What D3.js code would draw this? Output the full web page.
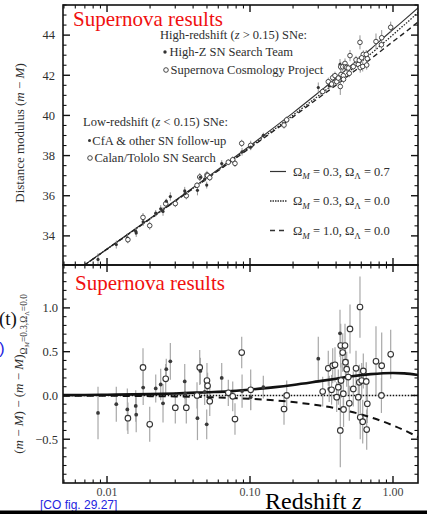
<!DOCTYPE html>
<html><head><meta charset="utf-8">
<script src="https://cdn.jsdelivr.net/npm/d3@7"></script>
<style>body{margin:0;background:#fff}svg{display:block}</style>
</head><body>
<script>
// ---------- data ----------
const snZ = [0.00865,0.01161,0.01387,0.0140,0.01588,0.0160,0.01785,0.0179,0.01989,0.02191,0.02374,0.02464,0.02573,0.02597,0.02772,0.03003,0.03495,0.03585,0.0352,0.0426,0.0429,0.0445,0.0450,0.0500,0.0505,0.0498,0.0482,0.0523,0.0634,0.0705,0.0757,0.0785,0.0875,0.0880,0.1011,0.1010,0.1239,
 0.1806,0.1729,0.3003,0.3223,0.3527,0.358,0.3787,0.3930,0.372,0.4039,0.4260,0.4308,0.4617,0.4450,0.465,0.4745,0.433,0.4145,0.4493,0.428,0.451,0.4948,0.5876,0.5004,0.4868,0.5277,0.5512,0.5720,0.5813,0.6199,0.6041,0.590,0.6140,0.6548,0.6612,0.650,0.7604,0.8337,0.830,0.9636];
const snMu = [32.83,33.57,33.89,33.81,34.23,34.15,34.92,34.70,34.51,35.13,35.35,35.22,35.60,35.73,35.96,35.61,36.24,36.00,36.11,36.52,36.27,36.93,36.92,37.04,37.00,36.53,36.83,36.90,37.60,37.67,37.79,37.61,38.61,38.19,38.51,38.42,39.01,
 39.78,39.52,41.39,41.19,41.68,41.48,41.88,41.98,41.56,41.68,42.54,42.42,42.59,42.42,42.42,42.39,42.04,41.86,41.98,41.44,41.80,42.10,43.64,42.98,42.36,42.43,42.77,42.54,42.75,43.04,42.87,42.38,42.44,42.51,42.83,43.04,43.68,43.87,43.52,44.39];
const snResid = [-0.20,-0.10,-0.16,-0.26,-0.12,-0.22,0.32,0.09,-0.33,0.08,0.125,-0.09,0.19,0.30,0.39,-0.14,0.16,-0.14,0.02,0.00,-0.26,0.32,0.28,0.17,0.11,-0.33,0.04,-0.065,0.20,0.03,-0.01,-0.27,0.49,0.05,0.065,-0.02,0.095,
 0.00,-0.155,0.42,0.045,0.31,0.075,0.34,0.35,0.065,-0.02,0.71,0.57,0.57,0.49,0.38,0.30,0.17,0.095,0.02,-0.40,-0.16,-0.09,1.01,0.76,0.21,0.075,0.31,-0.02,0.15,0.28,0.17,-0.25,-0.30,-0.39,-0.095,0.16,0.39,0.34,0.00,0.47];
const snErr = [0.30,0.20,0.24,0.18,0.18,0.20,0.22,0.20,0.20,0.16,0.18,0.22,0.17,0.12,0.21,0.18,0.20,0.18,0.15,0.15,0.25,0.20,0.15,0.20,0.15,0.17,0.15,0.17,0.17,0.15,0.17,0.18,0.18,0.19,0.23,0.15,0.13,
 0.17,0.18,0.25,0.17,0.20,0.15,0.20,0.20,0.17,0.17,0.27,0.25,0.25,0.22,0.20,0.20,0.20,0.20,0.20,0.42,0.20,0.20,0.35,0.28,0.20,0.20,0.20,0.20,0.20,0.20,0.20,0.25,0.25,0.23,0.22,0.22,0.40,0.38,0.20,0.28];
const snFilled = [1,1,1,0,1,1,0,1,0,1,1,1,0,1,1,0,1,0,1,0,1,0,1,0,0,1,1,0,1,0,0,0,0,1,0,1,1,
 0,0,1,0,0,1,0,0,0,0,1,0,0,0,0,0,0,0,0,0,0,0,0,0,0,0,0,0,0,0,0,0,0,0,0,0,0,0,0,0,1];

const curveZ   = [0.0049,0.007,0.01,0.02,0.03,0.05,0.07,0.1,0.15,0.2,0.3,0.4,0.5,0.7,1.0,1.2,1.5];
const muOpen   = [31.79,32.56,33.34,34.85,35.74,36.87,37.62,38.42,39.34,40.01,40.97,41.66,42.22,43.07,44.02,44.51,45.13];
const muFlat   = [31.79,32.57,33.35,34.87,35.76,36.91,37.67,38.49,39.44,40.13,41.13,41.85,42.44,43.31,44.28,44.76,45.36];
const muEdS    = [31.79,32.56,33.34,34.84,35.73,36.85,37.59,38.38,39.28,39.93,40.86,41.51,42.04,42.82,43.68,44.11,44.66];
const resOpen  = [0,0,0,0,0,0,0,0,0,0,0,0,0,0,0,0,0];
const resFlat  = [0.004,0.005,0.008,0.015,0.022,0.037,0.047,0.067,0.095,0.120,0.161,0.191,0.216,0.244,0.257,0.252,0.234];
const resEdS   = [-0.002,-0.003,-0.004,-0.008,-0.011,-0.019,-0.027,-0.038,-0.057,-0.076,-0.112,-0.148,-0.183,-0.250,-0.342,-0.398,-0.475];

const topMajorTicks = [34,36,38,40,42,44];
const botMajorTicks = [-0.5,0.0,0.5,1.0];
const botTickLabels = ['\u22120.5','0.0','0.5','1.0'];
const xMajorTicks = [0.01,0.1,1];
const xTickLabels = ['0.01','0.10','1.00'];

// ---------- setup ----------
const W=427,H=514;
const serif='"Liberation Serif","Times New Roman",serif';
const sans='"Liberation Sans",Arial,sans-serif';
const ink='#2e2e2e';
const svg=d3.select('body').append('svg').attr('width',W).attr('height',H);
const L=63,R=418,T1=5,B1=265,T2=265,B2=483;
const x=d3.scaleLog().domain([0.004922,1.4958]).range([L,R]);
const yTop=d3.scaleLinear().domain([32.55,45.5]).range([B1,T1]);
const yBot=d3.scaleLinear().domain([-1.0,1.49]).range([B2,T2]);

const defs=svg.append('defs');
defs.append('clipPath').attr('id','c1').append('rect').attr('x',L).attr('y',T1).attr('width',R-L).attr('height',B1-T1);
defs.append('clipPath').attr('id','c2').append('rect').attr('x',L).attr('y',T2).attr('width',R-L).attr('height',B2-T2);

function rich(g, px, py, parts, size, opts={}) {
  const t=g.append('text').attr('x',px).attr('y',py).attr('font-size',size)
    .attr('font-family',opts.family||serif).attr('fill',opts.fill||ink);
  if(opts.anchor) t.attr('text-anchor',opts.anchor);
  if(opts.transform) t.attr('transform',opts.transform);
  let shift=0;
  parts.forEach(([s,k])=>{
    const sp=t.append('tspan').text(s);
    let target=0, fs=null;
    if(k==='i') sp.attr('font-style','italic');
    if(k==='sub'||k==='isub'){target=size*0.28; fs=size*0.72; if(k==='isub') sp.attr('font-style','italic');}
    if(k==='sub2'||k==='isub2'){target=size*0.45; fs=size*0.5; if(k==='isub2') sp.attr('font-style','italic');}
    if(fs) sp.attr('font-size',fs);
    if(target!==shift){sp.attr('dy',target-shift); shift=target;}
  });
  return t;
}

// ---------- ticks ----------
const minorX=[];
[0.001,0.01,0.1,1].forEach(d=>{for(let k=1;k<10;k++){const v=k*d; if(v>=0.004922&&v<=1.4958) minorX.push(v);}});
function xTicks(yEdge, dir){
  minorX.forEach(v=>{
    const major = xMajorTicks.some(m=>Math.abs(m-v)<1e-9);
    const len = major?7:3.5;
    svg.append('line').attr('x1',x(v)).attr('x2',x(v)).attr('y1',yEdge).attr('y2',yEdge+dir*len)
      .attr('stroke','#111').attr('stroke-width',major?1.4:1.1);
  });
}
xTicks(T1,1); xTicks(B1,-1); xTicks(T2,1); xTicks(B2,-1);

function yTicks(scale, lo, hi, step, majors){
  const n=Math.round((hi-lo)/step);
  for(let i=0;i<=n;i++){
    const v=lo+i*step;
    const major=majors.some(m=>Math.abs(m-v)<1e-6);
    const len=major?7:3.5;
    const yy=scale(v);
    svg.append('line').attr('x1',L).attr('x2',L+len).attr('y1',yy).attr('y2',yy).attr('stroke','#111').attr('stroke-width',major?1.4:1.1);
    svg.append('line').attr('x1',R).attr('x2',R-len).attr('y1',yy).attr('y2',yy).attr('stroke','#111').attr('stroke-width',major?1.4:1.1);
  }
}
yTicks(yTop,33,45.5,0.5,topMajorTicks);
yTicks(yBot,-0.9,1.4,0.1,botMajorTicks);

// tick labels
topMajorTicks.forEach(v=>{
  svg.append('text').attr('x',55).attr('y',yTop(v)).attr('dy','0.35em').attr('text-anchor','end')
    .attr('font-family',serif).attr('font-size',12.5).attr('fill',ink).text(v);
});
botMajorTicks.forEach((v,i)=>{
  svg.append('text').attr('x',58).attr('y',yBot(v)).attr('dy','0.35em').attr('text-anchor','end')
    .attr('font-family',serif).attr('font-size',12.5).attr('fill',ink).text(botTickLabels[i]);
});
xMajorTicks.forEach((v,i)=>{
  svg.append('text').attr('x',x(v)).attr('y',496).attr('text-anchor','middle')
    .attr('font-family',serif).attr('font-size',12).attr('fill','#444').text(xTickLabels[i]);
});

// ---------- top panel ----------
const gTop=svg.append('g').attr('clip-path','url(#c1)');
const lineTop=(arr)=>d3.line().x((d,i)=>x(curveZ[i])).y((d,i)=>yTop(arr[i])).curve(d3.curveMonotoneX)(arr);
gTop.append('path').attr('d',lineTop(muFlat)).attr('fill','none').attr('stroke','#333').attr('stroke-width',1.1);
gTop.append('path').attr('d',lineTop(muOpen)).attr('fill','none').attr('stroke','#222').attr('stroke-width',1.3).attr('stroke-dasharray','1.5,1.5');
gTop.append('path').attr('d',lineTop(muEdS)).attr('fill','none').attr('stroke','#222').attr('stroke-width',1.4).attr('stroke-dasharray','5,3.5');
snZ.forEach((z,i)=>{
  gTop.append('line').attr('x1',x(z)).attr('x2',x(z)).attr('y1',yTop(snMu[i]-snErr[i])).attr('y2',yTop(snMu[i]+snErr[i]))
    .attr('stroke','#888').attr('stroke-width',0.9);
});
snZ.forEach((z,i)=>{
  if(snFilled[i]) gTop.append('circle').attr('cx',x(z)).attr('cy',yTop(snMu[i])).attr('r',1.6).attr('fill','#333');
  else gTop.append('circle').attr('cx',x(z)).attr('cy',yTop(snMu[i])).attr('r',2.3).attr('fill','#fff').attr('stroke','#333').attr('stroke-width',0.9);
});

// ---------- bottom panel ----------
const gBot=svg.append('g').attr('clip-path','url(#c2)');
snZ.forEach((z,i)=>{
  gBot.append('line').attr('x1',x(z)).attr('x2',x(z)).attr('y1',yBot(snResid[i]-snErr[i])).attr('y2',yBot(snResid[i]+snErr[i]))
    .attr('stroke','#a8a8a8').attr('stroke-width',1.2);
});
const lineBot=(arr)=>d3.line().x((d,i)=>x(curveZ[i])).y((d,i)=>yBot(arr[i])).curve(d3.curveMonotoneX)(arr);
gBot.append('path').attr('d',lineBot(resOpen)).attr('fill','none').attr('stroke','#111').attr('stroke-width',1.6).attr('stroke-dasharray','1.5,1.5');
gBot.append('path').attr('d',lineBot(resEdS)).attr('fill','none').attr('stroke','#111').attr('stroke-width',2).attr('stroke-dasharray','7,5');
gBot.append('path').attr('d',lineBot(resFlat)).attr('fill','none').attr('stroke','#111').attr('stroke-width',2.6);
snZ.forEach((z,i)=>{
  if(snFilled[i]) gBot.append('circle').attr('cx',x(z)).attr('cy',yBot(snResid[i])).attr('r',1.9).attr('fill','#3a3a3a');
  else gBot.append('circle').attr('cx',x(z)).attr('cy',yBot(snResid[i])).attr('r',2.8).attr('fill','#fff').attr('stroke','#333').attr('stroke-width',1.1);
});

// frames
svg.append('rect').attr('x',L).attr('y',T1).attr('width',R-L).attr('height',B1-T1).attr('fill','none').attr('stroke','#111').attr('stroke-width',1.6);
svg.append('rect').attr('x',L).attr('y',T2).attr('width',R-L).attr('height',B2-T2).attr('fill','none').attr('stroke','#111').attr('stroke-width',1.6);

// ---------- legend (top) ----------
rich(svg,160,38.8,[['High-redshift ('],['z','i'],[' > 0.15) SNe:']],12.5);
svg.append('circle').attr('cx',165).attr('cy',52).attr('r',1.7).attr('fill','#333');
rich(svg,169.5,55.8,[['High-Z SN Search Team']],12.5);
svg.append('circle').attr('cx',166).attr('cy',70).attr('r',2.3).attr('fill','#fff').attr('stroke','#333').attr('stroke-width',0.9);
rich(svg,170.5,73.6,[['Supernova Cosmology Project']],12.5);
rich(svg,83,125.8,[['Low-redshift ('],['z','i'],[' < 0.15) SNe:']],12.5);
svg.append('circle').attr('cx',89.5).attr('cy',140.5).attr('r',1.5).attr('fill','#333');
rich(svg,92.3,145.2,[['CfA & other SN follow-up']],12.5);
svg.append('circle').attr('cx',90).attr('cy',158).attr('r',2.3).attr('fill','#fff').attr('stroke','#333').attr('stroke-width',0.9);
rich(svg,94.5,161.8,[['Calan/Tololo SN Search']],12.5);

svg.append('line').attr('x1',270).attr('x2',286).attr('y1',171.5).attr('y2',171.5).attr('stroke','#333').attr('stroke-width',1.2);
svg.append('line').attr('x1',270).attr('x2',287).attr('y1',201).attr('y2',201).attr('stroke','#333').attr('stroke-width',1.3).attr('stroke-dasharray','1.5,1');
svg.append('line').attr('x1',270).attr('x2',287).attr('y1',230.5).attr('y2',230.5).attr('stroke','#333').attr('stroke-width',1.5).attr('stroke-dasharray','5,4');
rich(svg,293,175.5,[['\u03A9'],['M','isub'],[' = 0.3, \u03A9'],['\u039B','sub'],[' = 0.7']],12.5);
rich(svg,293,205,[['\u03A9'],['M','isub'],[' = 0.3, \u03A9'],['\u039B','sub'],[' = 0.0']],12.5);
rich(svg,293,235,[['\u03A9'],['M','isub'],[' = 1.0, \u03A9'],['\u039B','sub'],[' = 0.0']],12.5);

// ---------- axis titles ----------
rich(svg,0,0,[['Distance modulus ('],['m','i'],[' \u2212 '],['M','i'],[')']],13,{anchor:'middle',transform:'translate(24,133) rotate(-90)'});
rich(svg,0,0,[['('],['m','i'],[' \u2212 '],['M','i'],[') \u2212 ('],['m','i'],[' \u2212 '],['M','i'],[')'],
  ['\u03A9','sub'],['M','isub2'],['=0.3,\u03A9','sub'],['\u039B','sub2'],['=0.0','sub']],13,{anchor:'middle',transform:'translate(23,374) rotate(-90)'});

rich(svg,265,509,[['Redshift '],['z','i']],24,{fill:'#000'});

// ---------- overlays ----------
svg.append('text').attr('x',73).attr('y',25.5).attr('font-family',serif).attr('font-size',21).attr('fill','#f01010').text('Supernova results');
svg.append('text').attr('x',75).attr('y',289.5).attr('font-family',serif).attr('font-size',21).attr('fill','#f01010').text('Supernova results');
svg.append('text').attr('x',-1).attr('y',325).attr('font-family',serif).attr('font-size',19).attr('fill','#111').text('(t)');
svg.append('text').attr('x',-1).attr('y',354).attr('font-family',sans).attr('font-size',17).attr('fill','#2424e0').text(')');
svg.append('text').attr('x',40).attr('y',508.5).attr('font-family',sans).attr('font-size',12).attr('fill','#2424e0').text('[CO fig. 29.27]');
svg.append('rect').attr('x',0).attr('y',510.5).attr('width',W).attr('height',3.5).attr('fill','#000');
</script>
</body></html>
